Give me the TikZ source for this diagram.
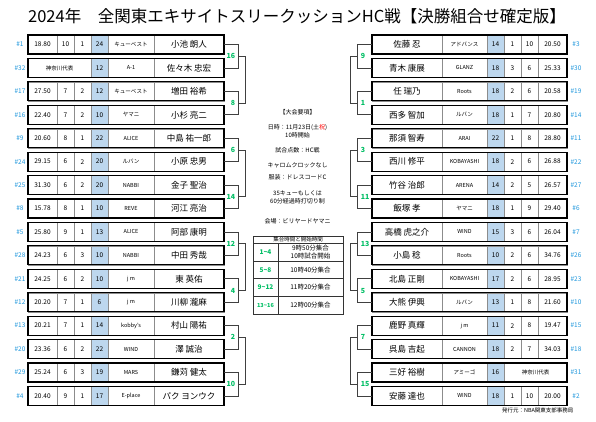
\documentclass[tikz,border=0pt]{standalone}
\usepackage{fontspec}
\setmainfont{Noto Sans CJK JP}
\usetikzlibrary{calc}
\definecolor{hcblue}{RGB}{189,215,238}
\definecolor{seedblue}{RGB}{30,150,220}
\definecolor{scoregreen}{RGB}{0,190,100}
\tikzset{
  rowframe/.style={draw=black, line width=1.1pt},
  cell/.style={draw=black!45, line width=0.4pt, minimum height=19pt, inner sep=0pt,
    font=\fontsize{6.5}{7}\selectfont},
  hccell/.style={cell, fill=hcblue},
  teamcell/.style={cell, font=\fontsize{5.5}{6}\selectfont},
  namecell/.style={cell, font=\fontsize{8.5}{9}\selectfont},
  seed/.style={text=seedblue, font=\fontsize{6.5}{7}\selectfont},
  score/.style={text=scoregreen, font=\bfseries\fontsize{7}{7}\selectfont},
  bracket/.style={draw=black!75, line width=0.7pt},
  info/.style={font=\fontsize{6}{7}\selectfont, inner sep=0pt},
  tableline/.style={draw=black!80, line width=0.5pt},
  slot/.style={text=scoregreen, font=\bfseries\fontsize{6.5}{7}\selectfont},
  slottime/.style={font=\fontsize{6.5}{7.2}\selectfont, align=center}
}

% left row: id, row, seed, avg, a, b, hc, team, name
\newcommand{\leftrow}[9]{%
  \pgfmathsetmacro{\ry}{44.5+23.43*(#2-1)}
  \node[seed] at (20,\ry) {\##3};
  \node[cell, minimum width=29pt] at (42.5,\ry) {#4};
  \node[cell, minimum width=17pt] at (65.5,\ry) {#5};
  \node[cell, minimum width=17pt] at (82.5,\ry) {#6};
  \node[hccell, minimum width=17pt] at (99.5,\ry) {#7};
  \node[teamcell, minimum width=46pt] at (131,\ry) {#8};
  \node[namecell, minimum width=70pt] (#1) at (189,\ry) {#9};
  \draw[rowframe] (28,\ry-9.5) rectangle (224,\ry+9.5);
}
% right row: id, row, name, team, hc, a, b, avg, seed
\newcommand{\rightrow}[9]{%
  \pgfmathsetmacro{\ry}{44.5+23.43*(#2-1)}
  \node[namecell, minimum width=70pt] (#1) at (407,\ry) {#3};
  \node[teamcell, minimum width=45pt] at (464.5,\ry) {#4};
  \node[hccell, minimum width=17pt] at (495.5,\ry) {#5};
  \node[cell, minimum width=17pt] at (512.5,\ry) {#6};
  \node[cell, minimum width=17pt] at (529.5,\ry) {#7};
  \node[cell, minimum width=29pt] at (552.5,\ry) {#8};
  \node[seed] at (576,\ry) {\##9};
  \draw[rowframe] (372,\ry-9.5) rectangle (567,\ry+9.5);
}
% first-round pairs: top, bottom, junction name, score
\newcommand{\leftpair}[4]{%
  \coordinate (#3) at ($(#1.east)!0.5!(#2.east)+(14.5,0)$);
  \draw[bracket] (#1.east) -| (#3) |- (#2.east);
  \node[score, left] at (#3) {#4};
}
\newcommand{\rightpair}[4]{%
  \coordinate (#3) at ($(#1.west)!0.5!(#2.west)+(-14.5,0)$);
  \draw[bracket] (#1.west) -| (#3) |- (#2.west);
  \node[score, right] at (#3) {#4};
}

\begin{document}
\begin{tikzpicture}[x=1pt, y=-1pt]
  \useasboundingbox (0,0) rectangle (596,421);

  % Title
  \node[font=\fontsize{16.5}{18}\selectfont] (title) at (297,16)
    {2024年　全関東エキサイトスリークッションHC戦【決勝組合せ確定版】};

  % Left block
  \leftrow{L1}{1}{1}{18.80}{10}{1}{24}{キューベスト}{小池 朗人}
  \pgfmathsetmacro{\ry}{44.5+23.43}
  \node[seed] at (20,\ry) {\#32};
  \node[teamcell, minimum width=63pt] at (59.5,\ry) {神奈川代表};
  \node[hccell, minimum width=17pt] at (99.5,\ry) {12};
  \node[teamcell, minimum width=46pt] at (131,\ry) {A-1};
  \node[namecell, minimum width=70pt] (L2) at (189,\ry) {佐々木 忠宏};
  \draw[rowframe] (28,\ry-9.5) rectangle (224,\ry+9.5);
  \leftrow{L3}{3}{17}{27.50}{7}{2}{12}{キューベスト}{増田 裕希}
  \leftrow{L4}{4}{16}{22.40}{7}{2}{10}{ヤマニ}{小杉 亮二}
  \leftrow{L5}{5}{9}{20.60}{8}{1}{22}{ALICE}{中島 祐一郎}
  \leftrow{L6}{6}{24}{29.15}{6}{2}{20}{ルバン}{小原 忠男}
  \leftrow{L7}{7}{25}{31.30}{6}{2}{20}{NABBI}{金子 聖治}
  \leftrow{L8}{8}{8}{15.78}{8}{1}{10}{REVE}{河江 亮治}
  \leftrow{L9}{9}{5}{25.80}{9}{1}{13}{ALICE}{阿部 康明}
  \leftrow{L10}{10}{28}{24.23}{6}{3}{10}{NABBI}{中田 秀哉}
  \leftrow{L11}{11}{21}{24.25}{6}{2}{10}{j m}{東 英佑}
  \leftrow{L12}{12}{12}{20.20}{7}{1}{6}{j m}{川柳 瀧麻}
  \leftrow{L13}{13}{13}{20.21}{7}{1}{14}{kobby's}{村山 陽祐}
  \leftrow{L14}{14}{20}{23.36}{6}{2}{22}{WIND}{澤 誠治}
  \leftrow{L15}{15}{29}{25.24}{6}{3}{19}{MARS}{鎌苅 健太}
  \leftrow{L16}{16}{4}{20.40}{9}{1}{17}{E-place}{パク ヨンウク}

  % Right block
  \rightrow{R1}{1}{佐藤 忍}{アドバンス}{14}{1}{10}{20.50}{3}
  \rightrow{R2}{2}{青木 康展}{GLANZ}{18}{3}{6}{25.33}{30}
  \rightrow{R3}{3}{任 瑞乃}{Roots}{18}{2}{6}{20.58}{19}
  \rightrow{R4}{4}{西多 智加}{ルバン}{18}{1}{7}{20.80}{14}
  \rightrow{R5}{5}{那須 智寿}{ARAI}{22}{1}{8}{28.80}{11}
  \rightrow{R6}{6}{西川 修平}{KOBAYASHI}{18}{2}{6}{26.88}{22}
  \rightrow{R7}{7}{竹谷 治郎}{ARENA}{14}{2}{5}{26.57}{27}
  \rightrow{R8}{8}{飯塚 孝}{ヤマニ}{18}{1}{9}{29.40}{6}
  \rightrow{R9}{9}{高橋 虎之介}{WIND}{15}{3}{6}{26.04}{7}
  \rightrow{R10}{10}{小島 稔}{Roots}{10}{2}{6}{34.76}{26}
  \rightrow{R11}{11}{北島 正剛}{KOBAYASHI}{17}{2}{6}{28.95}{23}
  \rightrow{R12}{12}{大熊 伊興}{ルバン}{13}{1}{8}{21.60}{10}
  \rightrow{R13}{13}{鹿野 真輝}{j m}{11}{2}{8}{19.47}{15}
  \rightrow{R14}{14}{呉島 吉起}{CANNON}{18}{2}{7}{34.03}{18}
  \pgfmathsetmacro{\ry}{44.5+23.43*14}
  \node[namecell, minimum width=70pt] (R15) at (407,\ry) {三好 裕樹};
  \node[teamcell, minimum width=45pt] at (464.5,\ry) {アミーゴ};
  \node[hccell, minimum width=17pt] at (495.5,\ry) {16};
  \node[teamcell, minimum width=63pt] at (535.5,\ry) {神奈川代表};
  \node[seed] at (576,\ry) {\#31};
  \draw[rowframe] (372,\ry-9.5) rectangle (567,\ry+9.5);
  \rightrow{R16}{16}{安藤 達也}{WIND}{18}{1}{10}{20.00}{2}

  % Left bracket
  \leftpair{L1}{L2}{LP1}{16}
  \leftpair{L3}{L4}{LP2}{8}
  \leftpair{L5}{L6}{LP3}{6}
  \leftpair{L7}{L8}{LP4}{14}
  \leftpair{L9}{L10}{LP5}{12}
  \leftpair{L11}{L12}{LP6}{4}
  \leftpair{L13}{L14}{LP7}{2}
  \leftpair{L15}{L16}{LP8}{10}
  \draw[bracket] (LP1) -- ++(7,0) |- (LP2);
  \draw[bracket] (LP3) -- ++(7,0) |- (LP4);
  \draw[bracket] (LP5) -- ++(7,0) |- (LP6);
  \draw[bracket] (LP7) -- ++(7,0) |- (LP8);

  % Right bracket
  \rightpair{R1}{R2}{RP1}{9}
  \rightpair{R3}{R4}{RP2}{1}
  \rightpair{R5}{R6}{RP3}{3}
  \rightpair{R7}{R8}{RP4}{11}
  \rightpair{R9}{R10}{RP5}{13}
  \rightpair{R11}{R12}{RP6}{5}
  \rightpair{R13}{R14}{RP7}{7}
  \rightpair{R15}{R16}{RP8}{15}
  \draw[bracket] (RP1) -- ++(-7,0) |- (RP2);
  \draw[bracket] (RP3) -- ++(-7,0) |- (RP4);
  \draw[bracket] (RP5) -- ++(-7,0) |- (RP6);
  \draw[bracket] (RP7) -- ++(-7,0) |- (RP8);

  % Tournament outline
  \node[info] (head) at (297.5,112) {【大会要項】};
  \node[info] (date) at (297.5,128) {日時：11月23日(土{\color{red}祝})};
  \node[info] (start) at (297.5,135) {10時開始};
  \node[info] (points) at (297.5,150) {試合点数：HC戦};
  \node[info] (clock) at (297.5,165) {キャロムクロックなし};
  \node[info] (dress) at (297.5,177) {服装：ドレスコードC};
  \node[info] (limit1) at (297.5,193) {35キューもしくは};
  \node[info] (limit2) at (297.5,201) {60分経過時打切り制};
  \node[info] (venue) at (297.5,221) {会場：ビリヤードヤマニ};

  % Meeting times table
  \draw[tableline] (253,236.5) rectangle (343,314);
  \draw[tableline] (253,243) -- (343,243);
  \draw[tableline] (253,261) -- (343,261);
  \draw[tableline] (253,278.5) -- (343,278.5);
  \draw[tableline] (253,296) -- (343,296);
  \draw[tableline] (278,243) -- (278,314);
  \node[font=\fontsize{5.5}{6}\selectfont, inner sep=0pt] (thead) at (298,239.8) {集合時間と開始時間};
  \node[slot] (s1) at (265.5,252) {1\textasciitilde4};
  \node[slot] (s2) at (265.5,269.7) {5\textasciitilde8};
  \node[slot] (s3) at (265.5,287.2) {9\textasciitilde12};
  \node[slot, font=\bfseries\fontsize{5.5}{6}\selectfont] (s4) at (265.5,305) {13\textasciitilde16};
  \node[slottime] (t1) at (310.5,252) {9時50分集合\\10時試合開始};
  \node[slottime] (t2) at (310.5,269.7) {10時40分集合};
  \node[slottime] (t3) at (310.5,287.2) {11時20分集合};
  \node[slottime] (t4) at (310.5,305) {12時00分集合};

  % Issuer
  \node[font=\fontsize{5.5}{6}\selectfont, anchor=east] (issuer) at (577,410) {発行元：NBA関東支部事務局};
\end{tikzpicture}
\end{document}
